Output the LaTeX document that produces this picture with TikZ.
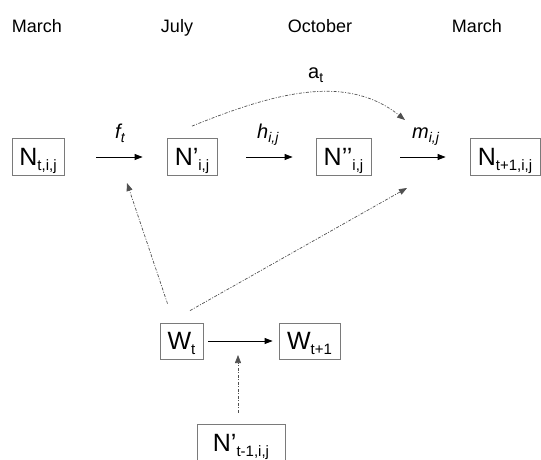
\documentclass[tikz,border=0pt]{standalone}
\usepackage{fontspec}
\setmainfont{Liberation Sans}
\usetikzlibrary{arrows.meta, positioning}
\definecolor{cBox}{HTML}{7A7A7A}
\definecolor{cDot}{HTML}{505050}
\newcommand{\lowsub}[1]{\raisebox{-5pt}{\fontsize{15}{15}\selectfont #1}}
\newcommand{\ratesub}[1]{\raisebox{-4pt}{\fontsize{14}{14}\selectfont #1}}

\begin{document}
\begin{tikzpicture}[x=1pt, y=-1pt,
  box/.style={draw=cBox, line width=0.8pt, inner sep=0pt, minimum height=37pt, text depth=0pt, font=\fontsize{25}{30}\selectfont},
  month/.style={anchor=base, font=\fontsize{18}{22}\selectfont},
  rate/.style={anchor=base west, inner sep=0pt, font=\fontsize{20}{24}\selectfont\itshape},
  arr/.style={-{Triangle[length=8pt, width=6pt]}, line width=0.8pt},
  dotarr/.style={-{Triangle[length=8pt, width=6pt]}, draw=cDot, line width=0.7pt, dash pattern=on 3pt off 1.5pt on 1pt off 1.5pt}
]
\useasboundingbox (0,0) rectangle (541,459);

% season headers
\node[month] (mar1) at (37,32) {March};
\node[month] (jul) at (177,32) {July};
\node[month] (oct) at (320,32) {October};
\node[month] (mar2) at (477,32) {March};

% abundance boxes
\node[box, minimum width=52pt] (ntij) at (38,157) {N\lowsub{t,i,j}};
\node[box, minimum width=50pt] (npij) at (192,157) {N’\lowsub{i,j}};
\node[box, minimum width=55pt] (nppij) at (343.5,157) {N’’\lowsub{i,j}};
\node[box, minimum width=70pt] (nnext) at (505,157) {N\lowsub{t+1,i,j}};
\node[box, minimum width=43pt, minimum height=36pt] (wt) at (181.5,341) {W\lowsub{t}};
\node[box, minimum width=61pt, minimum height=36pt] (wnext) at (309.5,341) {W\lowsub{t+1}};
\node[box, minimum width=88pt] (nprev) at (241,442.5) {N’\lowsub{t-1,i,j}};

% rates
\node[rate] (lf) at (115,138) {f\ratesub{t}};
\node[rate] (lh) at (257,138) {h\ratesub{i,j}};
\node[rate] (lm) at (412,138) {m\ratesub{i,j}};
\node[rate, font=\fontsize{20}{24}\selectfont] (la) at (308,78) {a\ratesub{t}};

% free ends of dotted links
\coordinate (fhit) at (127,183);
\coordinate (mhit) at (407,188);
\coordinate (mtop) at (405,120);
\coordinate (whit) at (238,355);

\draw[arr, shorten <=32pt, shorten >=24pt] (ntij) -- (npij);
\draw[arr, shorten <=29pt, shorten >=23pt] (npij) -- (nppij);
\draw[arr, shorten <=29pt, shorten >=24pt] (nppij) -- (nnext);
\draw[arr, shorten <=5pt, shorten >=6pt] (wt) -- (wnext);

\draw[dotarr] (npij.north) ++(0,-12) .. controls +(78,-31.5) and +(-60,-48) .. (mtop);
\draw[dotarr] (wt.north) ++(-14,-19) -- (fhit);
\draw[dotarr] (wt.north) ++(8.5,-12) -- (mhit);
\draw[dotarr, shorten <=11pt] (nprev.north -| whit) -- (whit);
\end{tikzpicture}
\end{document}
